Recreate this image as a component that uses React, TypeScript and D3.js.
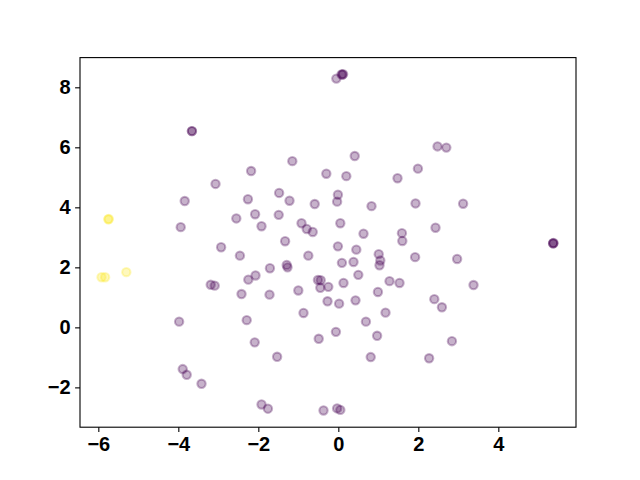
import React, { useRef, useEffect } from 'react';
import * as d3 from 'd3';

// cluster points (label 0 = purple, 1 = yellow)
const xs = [
  -3.66, -3.66, -1.15, -0.3, -2.18, -3.07, -3.84, -2.26, -1.48, -1.22, -0.59,
  -2.55, -2.08, -1.49, -3.94, -1.92, -0.92, -0.79, -0.64, -1.33,
  0.08, 0.12, 0.1, -0.05, 2.48, 2.7, 0.41, 0.2, 1.48, 1.99, -0.01, -0.03,
  0.83, 1.93, 3.12, 0.05, 0.63, 1.59, 1.6, 2.43, 5.37, 5.37, 5.38,
  -2.93, -2.46, -0.75, -1.71, -1.29, -1.27, -2.07, -2.25, -3.19, -3.09,
  -2.42, -1.72, -1.0, -0.51, -0.44, -0.45, -0.25, -0.27, -0.87, -2.29,
  -3.98, -0.49, -2.09, -1.53, -3.89, -3.79, -3.42, -1.92, -1.76, -0.37,
  -0.01, 0.45, 1.01, 1.05, 1.03, 0.09, 0.38, 1.92, 2.97, 0.5, 0.13, 1.28,
  1.53, 3.38, 0.02, 0.43, 0.99, 2.4, 2.59, 1.18, 0.69, -0.06, 0.97, 2.84,
  0.81, 2.27, -0.03, 0.05,
  -5.75, -5.74, -5.92, -5.83, -5.3,
];
const ys = [
  6.54, 6.54, 5.54, 5.12, 5.21, 4.78, 4.21, 4.27, 4.48, 4.22, 4.11,
  3.63, 3.77, 3.75, 3.34, 3.37, 3.47, 3.28, 3.18, 2.87,
  8.43, 8.44, 8.42, 8.29, 6.03, 5.99, 5.71, 5.04, 4.97, 5.29, 4.42, 4.19,
  4.04, 4.13, 4.12, 3.47, 3.12, 3.14, 2.88, 3.32, 2.8, 2.8, 2.81,
  2.67, 2.39, 2.39, 1.97, 2.08, 2.0, 1.73, 1.59, 1.42, 1.39,
  1.11, 1.09, 1.23, 1.58, 1.57, 1.32, 1.35, 0.87, 0.48, 0.24,
  0.19, -0.38, -0.5, -0.98, -1.39, -1.58, -1.88, -2.57, -2.71, -2.77,
  2.7, 2.59, 2.44, 2.23, 2.07, 2.15, 2.18, 2.34, 2.28, 1.75, 1.48, 1.54,
  1.48, 1.41, 0.79, 0.9, 1.18, 0.94, 0.67, 0.49, 0.19, -0.15, -0.28, -0.46,
  -0.99, -1.03, -2.7, -2.75,
  3.6, 3.61, 1.67, 1.67, 1.84,
];
const labels = xs.map((_, i) => (i >= xs.length - 5 ? 1 : 0));

const xTicks = [-6, -4, -2, 0, 2, 4];
const yTicks = [-2, 0, 2, 4, 6, 8];

const App = () => {
  const svgRef = useRef<SVGSVGElement>(null);

  useEffect(() => {
    const w = 640;
    const h = 480;
    const m = { left: 80, right: 64, top: 57.6, bottom: 52.8 };
    const svg = d3.select(svgRef.current).attr('width', w).attr('height', h);
    svg.selectAll('*').remove();

    const xScale = d3.scaleLinear().domain([-6.458, 5.942]).range([m.left, w - m.right]);
    const yScale = d3.scaleLinear().domain([-3.327, 8.99]).range([h - m.bottom, m.top]);
    const color = d3.scaleSequential(d3.interpolateViridis).domain([0, 1]);

    svg.append('rect').attr('width', w).attr('height', h).attr('fill', '#fff');

    // points
    svg
      .append('g')
      .selectAll('circle')
      .data(xs.map((x, i) => ({ x, y: ys[i], c: labels[i] })))
      .join('circle')
      .attr('cx', (d) => xScale(d.x))
      .attr('cy', (d) => yScale(d.y))
      .attr('r', 4.17)
      .attr('fill', (d) => color(d.c))
      .attr('fill-opacity', 0.3)
      .attr('stroke', (d) => color(d.c))
      .attr('stroke-opacity', 0.3)
      .attr('stroke-width', 2.08);

    // frame
    svg
      .append('rect')
      .attr('x', m.left)
      .attr('y', m.top)
      .attr('width', w - m.left - m.right)
      .attr('height', h - m.top - m.bottom)
      .attr('fill', 'none')
      .attr('stroke', '#000')
      .attr('stroke-width', 1.1);

    // axes
    const xAxis = d3.axisBottom(xScale).tickValues(xTicks).tickSize(4.9).tickSizeOuter(0).tickPadding(4.5);
    const yAxis = d3.axisLeft(yScale).tickValues(yTicks).tickSize(4.9).tickSizeOuter(0).tickPadding(4.5);
    const gx = svg.append('g').attr('transform', `translate(0, ${h - m.bottom})`).call(xAxis);
    const gy = svg.append('g').attr('transform', `translate(${m.left}, 0)`).call(yAxis);
    [gx, gy].forEach((g) => {
      g.select('.domain').remove();
      g.selectAll('line').attr('stroke', '#000').attr('stroke-width', 1.1);
      g.selectAll('text')
        .attr('fill', '#000')
        .style('font-family', '"Liberation Sans", Arial, sans-serif')
        .style('font-weight', 'bold')
        .style('font-size', '20px');
    });
  }, []);

  return <svg ref={svgRef} style={{ position: 'absolute', left: 0, top: 0 }}></svg>;
};

export default App;
